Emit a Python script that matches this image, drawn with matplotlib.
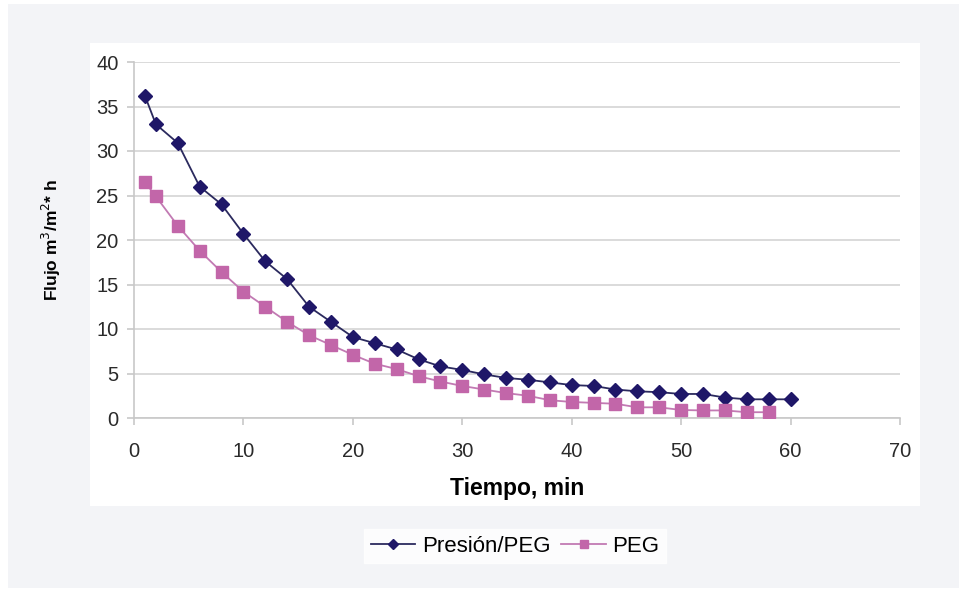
import matplotlib.pyplot as plt
from matplotlib.patches import Rectangle

plt.rcParams['font.family'] = ['Liberation Sans', 'DejaVu Sans']

# tiempo (min)
t_presion = [1, 2, 4, 6, 8, 10, 12, 14, 16, 18, 20, 22, 24, 26, 28, 30,
             32, 34, 36, 38, 40, 42, 44, 46, 48, 50, 52, 54, 56, 58, 60]
flujo_presion = [36.2, 33.0, 30.9, 26.0, 24.0, 20.7, 17.6, 15.6, 12.5, 10.8, 9.1,
                 8.4, 7.7, 6.6, 5.8, 5.4, 4.9, 4.5, 4.3, 4.0, 3.7, 3.6, 3.2,
                 3.0, 2.9, 2.7, 2.7, 2.3, 2.1, 2.1, 2.1]

t_peg = [1, 2, 4, 6, 8, 10, 12, 14, 16, 18, 20, 22, 24, 26, 28, 30,
         32, 34, 36, 38, 40, 42, 44, 46, 48, 50, 52, 54, 56, 58]
flujo_peg = [26.5, 24.9, 21.6, 18.8, 16.4, 14.2, 12.5, 10.8, 9.3, 8.2, 7.1,
             6.1, 5.5, 4.7, 4.1, 3.6, 3.2, 2.8, 2.5, 2.0, 1.8, 1.7, 1.6,
             1.2, 1.2, 0.9, 0.85, 0.85, 0.65, 0.65]

fig = plt.figure(figsize=(9.67, 5.95), dpi=100, facecolor='white')

# fondo gris y paneles blancos
fig.patches.append(Rectangle((8 / 967, 1 - 588 / 595), 951 / 967, 584 / 595,
                             transform=fig.transFigure, facecolor='#f3f4f7',
                             edgecolor='none', zorder=-3))
fig.patches.append(Rectangle((90 / 967, 1 - 506 / 595), 830 / 967, 463 / 595,
                             transform=fig.transFigure, facecolor='white',
                             edgecolor='none', zorder=-2))

ax = fig.add_axes([134 / 967, 1 - 418 / 595, 766 / 967, 356 / 595])
ax.set_facecolor('white')

ax.plot(t_presion, flujo_presion, color='#2b2a5e', lw=1.3, marker='D',
        markersize=7, markerfacecolor='#1f1768', markeredgecolor='#1f1768',
        label='Presión/PEG', zorder=3)
ax.plot(t_peg, flujo_peg, color='#c27ab3', lw=1.3, marker='s',
        markersize=8, markerfacecolor='#c266a9', markeredgecolor='#c266a9',
        label='PEG', zorder=3)

ax.set_xlim(0, 70)
ax.set_ylim(0, 40)
ax.set_xticks(range(0, 71, 10))
ax.set_yticks(range(0, 41, 5))
ax.grid(axis='y', color='#d4d4d4', lw=1.2)
ax.set_axisbelow(True)
for s in ['top', 'right']:
    ax.spines[s].set_visible(False)
for s in ['left', 'bottom']:
    ax.spines[s].set_color('#c8c8c8')
    ax.spines[s].set_linewidth(1.2)
ax.tick_params(colors='#c8c8c8', labelcolor='#2a2a2a', labelsize=14.5,
               length=5, width=1.2)
ax.tick_params(axis='x', pad=12)
ax.tick_params(axis='y', pad=6)

ax.set_xlabel('Tiempo, min', fontsize=16.5, fontweight='bold', labelpad=12)
ax.set_ylabel('Flujo m$^3$/m$^2$* h', fontsize=12.5, fontweight='bold', labelpad=24)

fig.legend(loc='center', bbox_to_anchor=(515 / 967, 1 - 546 / 595), ncol=2,
           fontsize=16, frameon=True, facecolor='white', edgecolor='white',
           fancybox=False, handlelength=2.0, columnspacing=0.5, handletextpad=0.3,
           borderpad=0.3, markerscale=0.8)

fig.savefig('out.png', dpi=100, facecolor='white')
